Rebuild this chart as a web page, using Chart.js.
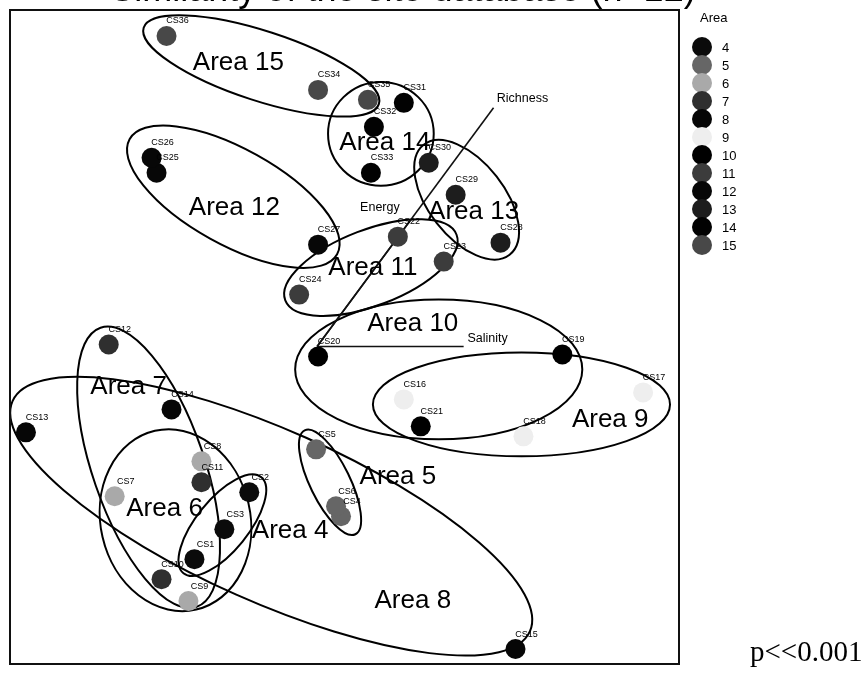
<!DOCTYPE html>
<html>
<head>
<meta charset="utf-8">
<script src="https://cdn.jsdelivr.net/npm/chart.js@4.4.1/dist/chart.umd.min.js"></script>
<style>
  html, body { margin: 0; padding: 0; background: #fff; }
  #wrap { position: relative; width: 864px; height: 674px; }
</style>
</head>
<body>
<div id="wrap"><canvas id="mds" width="864" height="674"></canvas></div>
<script>
'use strict';

// ---- site scores (ordination units, y up) ----
const siteNames = ['CS1','CS2','CS3','CS4','CS5','CS6','CS7','CS8','CS9','CS10','CS11','CS12',
                   'CS13','CS14','CS15','CS16','CS17','CS18','CS19','CS20','CS21','CS22','CS23','CS24',
                   'CS25','CS26','CS27','CS28','CS29','CS30','CS31','CS32','CS33','CS34','CS35','CS36'];
const siteX = [185, 240, 215, 332, 307, 327, 105, 192, 179, 152, 192,  99,
                16, 162, 507, 395, 635, 515, 554, 309, 412, 389, 435, 290,
               147, 142, 309, 492, 447, 420, 395, 365, 362, 309, 359, 157];
const siteY = [105, 172, 135, 148, 215, 158, 168, 203,  63,  85, 182, 320,
               232, 255,  15, 265, 272, 228, 310, 308, 238, 428, 403, 370,
               492, 507, 420, 422, 470, 502, 562, 538, 492, 575, 565, 629];
const siteArea = [4,4,4, 5,5,5, 6,6,6, 7,7,7, 8,8,8, 9,9,9, 10,10,10, 11,11,11,
                  12,12,12, 13,13,13, 14,14,14, 15,15,15];

const areas = [4, 5, 6, 7, 8, 9, 10, 11, 12, 13, 14, 15];
const areaColors = ['#0b0b0b', '#666666', '#a9a9a9', '#2f2f2f', '#060606', '#eeeeee',
                    '#000000', '#3c3c3c', '#070707', '#1d1d1d', '#020202', '#484848'];

// ---- group ellipses ----
const ellipseArea  = [15, 14, 13, 12, 11, 10, 9, 7, 6, 4, 5, 8];
const ellipseX     = [252, 372, 458, 224, 362, 430, 513, 139, 166, 213, 321, 262];
const ellipseY     = [599, 531, 465, 468, 397, 295, 260, 197, 144, 139, 182, 148];
const ellipseRx    = [124,  53,  70, 119,  92, 144, 149, 148,  92,  62,  58, 284];
const ellipseRy    = [ 35,  52,  38,  48,  38,  70,  52,  56,  75,  26,  20,  86];
const ellipseAngle = [-18,   0, -52, -29,  21,   0,   0, -71, -77,  51, -64, -24];
const areaLabelX   = [229, 376, 465, 225, 364, 404, 602, 119, 155, 281, 389, 404];
const areaLabelY   = [602, 522, 453, 457, 397, 341, 245, 278, 155, 133, 187,  63];

// ---- environmental vectors ----
const vectorOrigin = { x: 308, y: 318 };
const vectorNames  = ['Richness', 'Energy', 'Salinity'];
const vectorX      = [485, 402, 455];
const vectorY      = [557, 445, 318];
const vectorLabelX = [514, 371, 479];
const vectorLabelY = [566, 457, 326];

const FONT = '"Liberation Sans", Arial, sans-serif';

const pointSets = areas.map((a, i) => ({
  label: String(a),
  data: siteNames
    .map((n, k) => ({ x: siteX[k], y: siteY[k], name: n, area: siteArea[k] }))
    .filter(p => p.area === a),
  backgroundColor: areaColors[i],
  borderWidth: 0,
  pointRadius: 10,
  pointHoverRadius: 10
}));

const vectorSets = vectorNames.map((n, i) => ({
  type: 'line',
  label: n,
  data: [{ x: vectorOrigin.x, y: vectorOrigin.y }, { x: vectorX[i], y: vectorY[i] }],
  borderColor: '#111',
  borderWidth: 1.6,
  pointRadius: 0,
  fill: false,
  isVector: true
}));

const ellipsePlugin = {
  id: 'ellipses',
  beforeDatasetsDraw(chart) {
    const { ctx, scales: { x, y } } = chart;
    ctx.save();
    ctx.strokeStyle = '#000';
    ctx.lineWidth = 2;
    ellipseArea.forEach((a, i) => {
      const cx = x.getPixelForValue(ellipseX[i]);
      const cy = y.getPixelForValue(ellipseY[i]);
      const rx = x.getPixelForValue(ellipseX[i] + ellipseRx[i]) - cx;
      const ry = cy - y.getPixelForValue(ellipseY[i] + ellipseRy[i]);
      ctx.beginPath();
      ctx.ellipse(cx, cy, rx, ry, -ellipseAngle[i] * Math.PI / 180, 0, Math.PI * 2);
      ctx.stroke();
    });
    ctx.restore();
  }
};

const textPlugin = {
  id: 'texts',
  afterDatasetsDraw(chart) {
    const { ctx, scales: { x, y }, chartArea } = chart;
    ctx.save();
    ctx.fillStyle = '#000';

    // site labels
    ctx.font = '9px ' + FONT;
    ctx.textAlign = 'center';
    ctx.textBaseline = 'middle';
    siteNames.forEach((n, k) => {
      ctx.fillText(n, x.getPixelForValue(siteX[k]) + 11, y.getPixelForValue(siteY[k]) - 15);
    });

    // area labels
    ctx.font = '26px ' + FONT;
    ellipseArea.forEach((a, i) => {
      ctx.fillText('Area ' + a, x.getPixelForValue(areaLabelX[i]), y.getPixelForValue(areaLabelY[i]));
    });

    // vector labels
    ctx.font = '12.5px ' + FONT;
    vectorNames.forEach((n, i) => {
      ctx.fillText(n, x.getPixelForValue(vectorLabelX[i]), y.getPixelForValue(vectorLabelY[i]));
    });

    // frame
    ctx.lineWidth = 2;
    ctx.strokeStyle = '#111';
    ctx.strokeRect(chartArea.left, chartArea.top, chartArea.right - chartArea.left, chartArea.bottom - chartArea.top);
    ctx.restore();
  },
  afterDraw(chart) {
    const { ctx, chartArea } = chart;
    ctx.save();
    ctx.fillStyle = '#000';

    // title, mostly cut off at the top edge
    ctx.font = '36px ' + FONT;
    ctx.textAlign = 'center';
    ctx.textBaseline = 'alphabetic';
    ctx.fillText('Similarity of the site database (n=12)', 403, 1);

    // legend
    const lx = chartArea.right + 23;
    ctx.font = '13px ' + FONT;
    ctx.textAlign = 'left';
    ctx.textBaseline = 'middle';
    ctx.fillText('Area', lx - 2, 18);
    chart.data.datasets.forEach((ds, i) => {
      if (ds.isVector) return;
      const ly = 47 + i * 18;
      ctx.beginPath();
      ctx.arc(lx, ly, 10, 0, Math.PI * 2);
      ctx.fillStyle = ds.backgroundColor;
      ctx.fill();
      ctx.fillStyle = '#000';
      ctx.fillText(ds.label, lx + 20, ly + 1);
    });

    // significance note
    ctx.font = '29px "Liberation Serif", "Times New Roman", serif';
    ctx.fillText('p<<0.001', 750, 653);
    ctx.restore();
  }
};

new Chart(document.getElementById('mds'), {
  type: 'scatter',
  data: { datasets: [...pointSets, ...vectorSets] },
  options: {
    responsive: false,
    animation: false,
    devicePixelRatio: 1,
    layout: { padding: { left: 8, top: 10, right: 185, bottom: 9 } },
    plugins: { legend: { display: false }, tooltip: { enabled: false } },
    scales: {
      x: { type: 'linear', display: false, min: 0, max: 671 },
      y: { type: 'linear', display: false, min: 0, max: 655 }
    }
  },
  plugins: [ellipsePlugin, textPlugin]
});
</script>
</body>
</html>
